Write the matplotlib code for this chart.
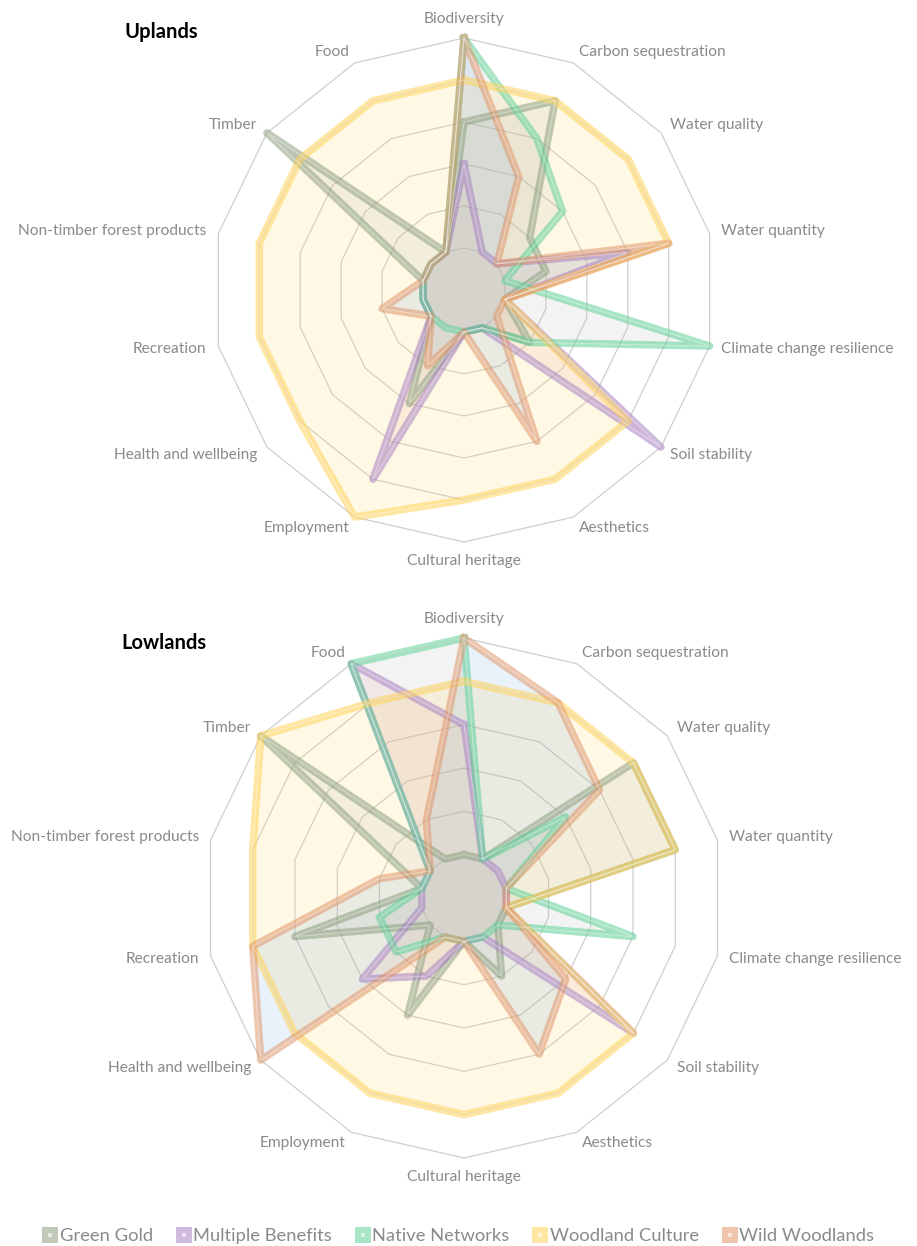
import numpy as np
import matplotlib.pyplot as plt
from matplotlib.lines import Line2D
from matplotlib.legend_handler import HandlerTuple

plt.rcParams['font.family'] = ['Lato', 'DejaVu Sans']

axis_labels = ["Biodiversity", "Carbon sequestration", "Water quality", "Water quantity",
               "Climate change resilience", "Soil stability", "Aesthetics", "Cultural heritage",
               "Employment", "Health and wellbeing", "Recreation", "Non-timber forest products",
               "Timber", "Food"]
scenarios = ["Green Gold", "Multiple Benefits", "Native Networks", "Woodland Culture", "Wild Woodlands"]

# scores 1-6 per axis, same order as axis_labels
uplands_green_gold = [4, 5, 2, 2, 1, 2, 1, 1, 3, 1, 1, 1, 6, 1]
uplands_multiple_benefits = [3, 1, 1, 4, 1, 6, 1, 1, 5, 1, 1, 1, 1, 1]
uplands_native_networks = [6, 4, 3, 1, 6, 2, 1, 1, 1, 1, 1, 1, 1, 1]
uplands_woodland_culture = [5, 5, 5, 5, 1, 5, 5, 5, 6, 5, 5, 5, 5, 5]
uplands_wild_woodlands = [6, 3, 1, 5, 1, 1, 4, 1, 2, 1, 2, 1, 1, 1]

lowlands_green_gold = [1, 1, 5, 5, 1, 1, 2, 1, 3, 1, 4, 1, 6, 1]
lowlands_multiple_benefits = [4, 1, 1, 1, 1, 5, 1, 1, 2, 3, 1, 1, 1, 6]
lowlands_native_networks = [6, 1, 3, 1, 4, 1, 1, 1, 1, 2, 2, 1, 1, 6]
lowlands_woodland_culture = [5, 5, 5, 5, 1, 5, 5, 5, 5, 5, 5, 5, 6, 5]
lowlands_wild_woodlands = [6, 5, 4, 1, 1, 3, 4, 1, 1, 6, 5, 2, 1, 2]

line_colors = ["#8c9f7e", "#a982c4", "#5fd198", "#ffd257", "#e0976b"]
fill_colors = ["#9fb0b8", "#e6a0a0", "#b4b4b4", "#ffd54f", "#6ca2de"]
max_score = 6

n = len(axis_labels)
theta = np.linspace(0, 2 * np.pi, n, endpoint=False)
theta_c = np.append(theta, theta[0])


def radar(ax, series, px_radius):
    ax.set_theta_zero_location('N')
    ax.set_theta_direction(-1)
    ax.set_ylim(0, max_score)
    ax.set_xticks([])
    ax.set_yticks([])
    ax.grid(False)
    ax.spines['polar'].set_visible(False)
    ax.patch.set_alpha(0)

    for k in range(1, max_score + 1):
        ax.plot(theta_c, [k] * (n + 1), color="#cfcfcf", lw=0.9, zorder=1, clip_on=False)

    for vals, fc in zip(series, fill_colors):
        v = np.append(vals, vals[0])
        ax.fill(theta_c, v, color=fc, alpha=0.15, lw=0, zorder=2)
    for vals, lc in zip(series, line_colors):
        v = np.append(vals, vals[0])
        ax.plot(theta_c, v, color=lc, lw=5.4, alpha=0.55, solid_joinstyle='round',
                zorder=3, clip_on=False)
        ax.plot(theta_c, v, color="white", lw=0.8, alpha=0.35, zorder=4, clip_on=False)

    off = max_score + 12 / (px_radius / max_score)
    for t, lab in zip(theta, axis_labels):
        s = np.sin(t)
        if s > 0.01:
            ha = 'left'
        elif s < -0.01:
            ha = 'right'
        else:
            ha = 'center'
        va = 'center'
        if abs(s) < 0.01:
            va = 'bottom' if np.cos(t) > 0 else 'top'
        ax.text(t, off, lab, ha=ha, va=va, fontsize=11.2, color="#8a8a8a")


W, H = 917, 1246
fig = plt.figure(figsize=(W / 100, H / 100), dpi=100)

r_up, cx_up, cy_up = 252, 464, 290
ax1 = fig.add_axes([(cx_up - r_up) / W, 1 - (cy_up + r_up) / H, 2 * r_up / W, 2 * r_up / H],
                   projection='polar')
radar(ax1, [uplands_green_gold, uplands_multiple_benefits, uplands_native_networks,
            uplands_woodland_culture, uplands_wild_woodlands], r_up)

r_lo, cx_lo, cy_lo = 260, 464, 898
ax2 = fig.add_axes([(cx_lo - r_lo) / W, 1 - (cy_lo + r_lo) / H, 2 * r_lo / W, 2 * r_lo / H],
                   projection='polar')
radar(ax2, [lowlands_green_gold, lowlands_multiple_benefits, lowlands_native_networks,
            lowlands_woodland_culture, lowlands_wild_woodlands], r_lo)

fig.text(125 / W, 1 - 32 / H, "Uplands", fontsize=14.5, fontweight='bold', ha='left', va='center')
fig.text(121 / W, 1 - 643 / H, "Lowlands", fontsize=14.5, fontweight='bold', ha='left', va='center')

handles = []
for lc in line_colors:
    outer = Line2D([], [], ls='none', marker='s', markersize=11.5, markeredgewidth=0,
                   markerfacecolor=lc, alpha=0.55)
    inner = Line2D([], [], ls='none', marker='s', markersize=3.5, markeredgewidth=0,
                   markerfacecolor='white', alpha=0.6)
    handles.append((outer, inner))
fig.legend(handles, scenarios, loc='center', bbox_to_anchor=(0.5, 1 - 1236 / H), ncol=5,
           frameon=False, fontsize=13.2, labelcolor="#8a8a8a", handletextpad=0.1,
           columnspacing=1.25, handlelength=0.85,
           handler_map={tuple: HandlerTuple(ndivide=1)})

fig.savefig("out.png", dpi=100)
